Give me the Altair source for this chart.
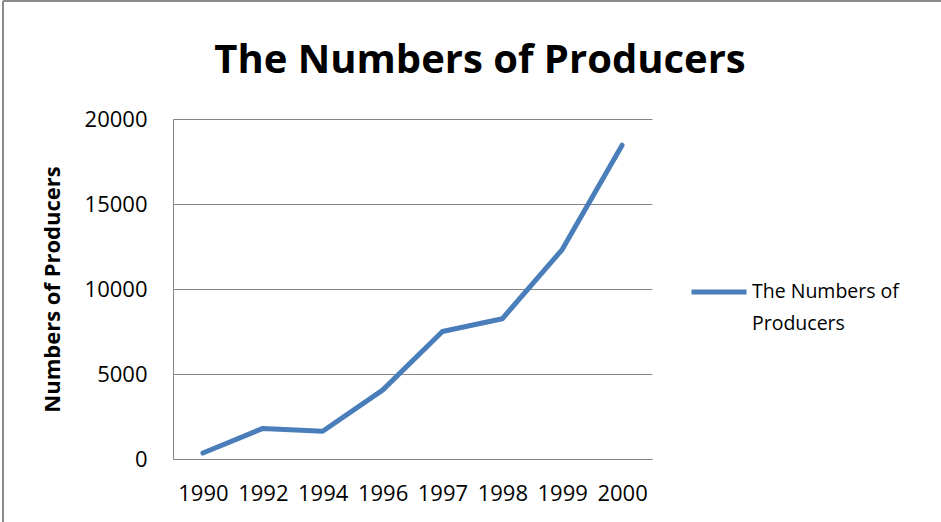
import altair as alt
import pandas as pd

years = ["1990", "1992", "1994", "1996", "1997", "1998", "1999", "2000"]
producers = [350, 1800, 1630, 4050, 7500, 8250, 12320, 18460]
series_name = "The Numbers of Producers"
legend_line1 = "The Numbers of"
legend_line2 = "Producers"

df = pd.DataFrame({"Year": years, "Producers": producers, "Series": [series_name] * len(years)})

FONT = "Open Sans"
GRID = "#868686"

line = alt.Chart(df).mark_line(strokeWidth=5, strokeCap="round", strokeJoin="round").encode(
    x=alt.X("Year:N", sort=years, title=None,
            scale=alt.Scale(type="point", padding=0.5),
            axis=alt.Axis(labelAngle=0, ticks=False, grid=False, domainColor=GRID,
                          labelFontSize=22, labelFont=FONT, labelColor="black",
                          labelPadding=24)),
    y=alt.Y("Producers:Q", title="Numbers of Producers",
            scale=alt.Scale(domain=[0, 20000]),
            axis=alt.Axis(values=[0, 5000, 10000, 15000, 20000], ticks=False, format="d",
                          gridColor=GRID, domainColor=GRID,
                          labelFontSize=22, labelFont=FONT, labelColor="black",
                          labelPadding=26,
                          titleFontSize=22, titleFont=FONT, titleFontWeight="bold",
                          titleColor="black", titlePadding=20)),
    color=alt.Color("Series:N", scale=alt.Scale(range=["#4A7EBB"]),
                    legend=alt.Legend(title=None, orient="none", legendX=516, legendY=143,
                                      symbolType="stroke", symbolSize=3025,
                                      symbolStrokeWidth=5,
                                      labelFontSize=19.5, labelFont=FONT, labelColor="black",
                                      labelOffset=3, labelLimit=300,
                                      labelExpr=f"'{legend_line1}'")),
)

legend_extra = alt.Chart(pd.DataFrame({"t": [legend_line2]})).mark_text(
    align="left", baseline="middle", fontSize=19.5, font=FONT, color="black").encode(
    x=alt.value(579), y=alt.value(205), text="t:N")

title_text = alt.Chart(pd.DataFrame({"t": [series_name]})).mark_text(
    align="center", baseline="middle", fontSize=40, font=FONT, fontWeight="bold",
    color="black").encode(x=alt.value(307), y=alt.value(-58), text="t:N")

frame_left = alt.Chart(df).mark_rule(color="#8c8c8c", strokeWidth=1.5).encode(
    x=alt.value(-170), y=alt.value(-118), y2=alt.value(410))
frame_top = alt.Chart(df).mark_rule(color="#8c8c8c", strokeWidth=1.5).encode(
    x=alt.value(-170), x2=alt.value(800), y=alt.value(-118))

chart = alt.layer(frame_left, frame_top, line, legend_extra, title_text).properties(
    width=479, height=340,
    autosize=alt.AutoSizeParams(type="none"),
    padding={"left": 173, "top": 119, "right": 289, "bottom": 63},
).configure_view(stroke=None)

chart.save("out.html", embed_options={"renderer": "svg", "actions": False})
